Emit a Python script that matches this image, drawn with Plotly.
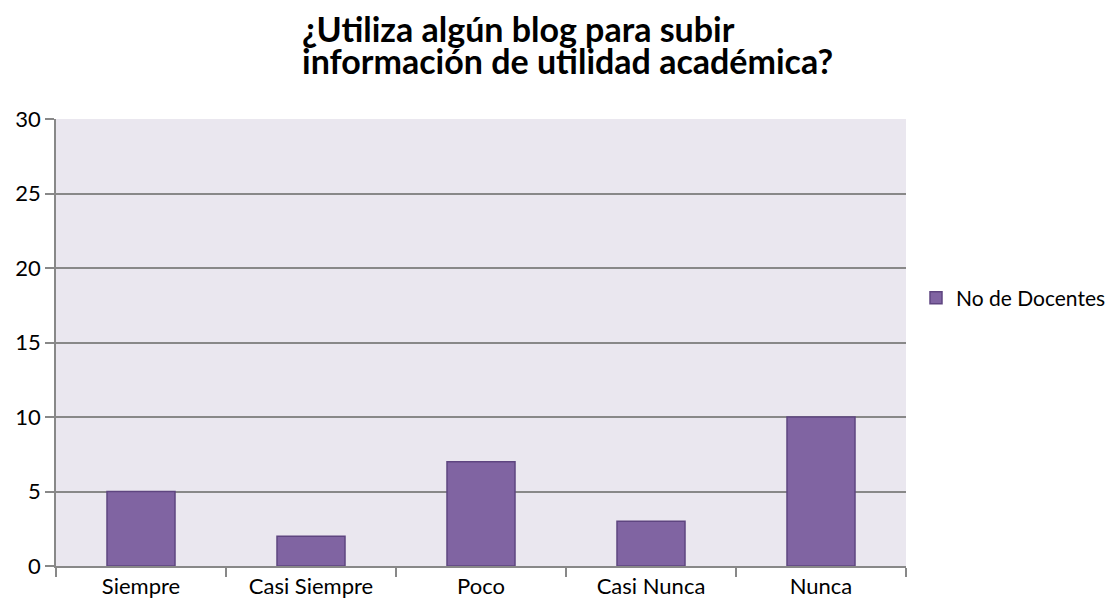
import plotly.graph_objects as go

categories = ["Siempre", "Casi Siempre", "Poco", "Casi Nunca", "Nunca"]
docentes = [5, 2, 7, 3, 10]
series_name = "No de Docentes"
title_lines = ["¿Utiliza algún blog para subir", "información de utilidad académica?"]
y_ticks = [0, 5, 10, 15, 20, 25, 30]

# page has an 8px body margin, so the figure coordinates are page coordinates - 8
W, H = 1120, 599
L, R, T, B = 48, 222, 111, 41
plot_h = H - T - B
plot_w = W - L - R


def px_x(fx):
    return (fx - L) / plot_w


def px_y(fy):
    return (H - B - fy) / plot_h


fig = go.Figure()
fig.add_trace(go.Bar(
    x=categories, y=docentes, name=series_name, width=0.4,
    marker=dict(color="#8064A2", line=dict(color="#5E4580", width=1.5)),
))

fig.update_layout(
    width=W, height=H,
    margin=dict(l=L, r=R, t=T, b=B, autoexpand=False),
    paper_bgcolor="white", plot_bgcolor="#EAE7EF",
    font=dict(family="Lato, sans-serif", size=22, color="black"),
    showlegend=True,
    legend=dict(x=px_x(908), xanchor="left", y=px_y(290), yanchor="middle",
                font=dict(size=21), bgcolor="rgba(0,0,0,0)"),
)
for line, cy in zip(title_lines, [20, 52]):
    fig.add_annotation(text=line, xref="paper", yref="paper", x=px_x(292), y=px_y(cy),
                       xanchor="left", yanchor="middle", showarrow=False,
                       font=dict(family="Lato, sans-serif", size=34, color="black", weight="bold"))

fig.update_xaxes(
    automargin=False,
    showline=True, linecolor="#888888", linewidth=1.5,
    ticks="outside", tickson="boundaries", ticklen=9, tickcolor="#888888", tickwidth=1.5,
    showgrid=False, tickfont=dict(size=22),
)
fig.update_yaxes(
    automargin=False,
    range=[0, 30], tickvals=y_ticks, showline=True, linecolor="#888888", linewidth=1.5,
    ticks="outside", ticklen=9, tickcolor="#888888", tickwidth=1.5,
    showgrid=True, gridcolor="#888888", gridwidth=1.5, zeroline=False,
    tickfont=dict(size=22),
)
fig.write_html("out.html")
